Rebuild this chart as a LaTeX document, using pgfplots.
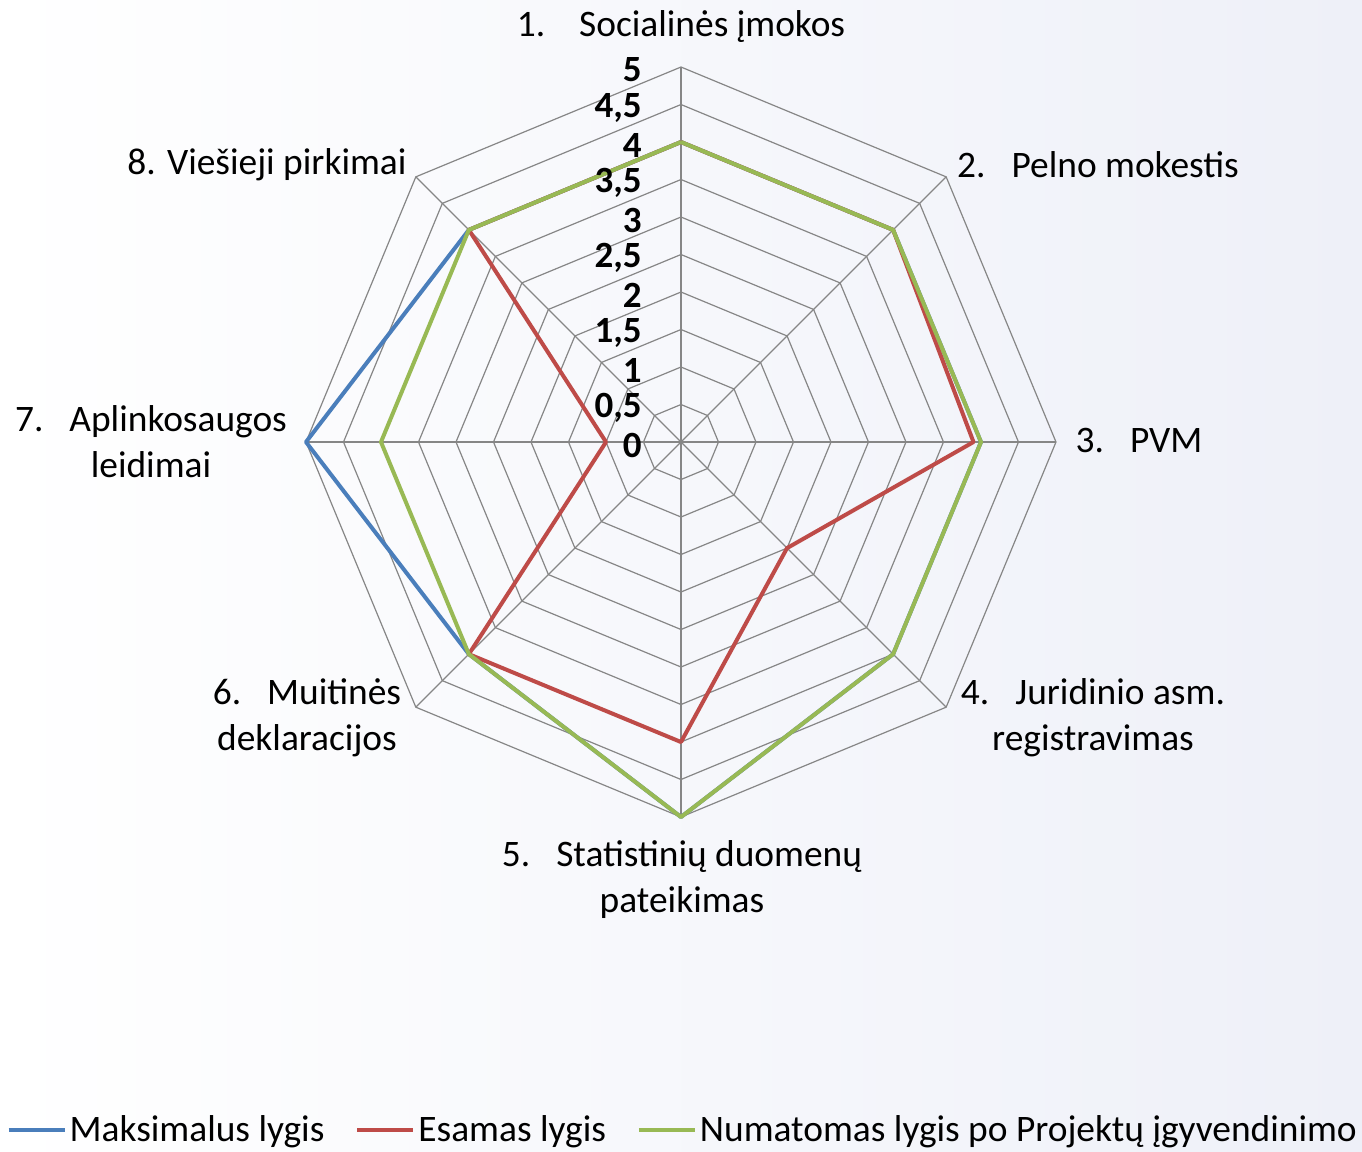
\documentclass[border=0pt]{standalone}
\usepackage{pgfplots}
\pgfplotsset{compat=1.18}
\usepgfplotslibrary{polar}
\usepackage{fontspec}
\setmainfont{Carlito}
\definecolor{sblue}{RGB}{74,126,187}
\definecolor{sred}{RGB}{190,75,72}
\definecolor{sgreen}{RGB}{152,185,84}
\definecolor{gridc}{RGB}{134,134,134}
\definecolor{bgc}{RGB}{238,240,248}
\begin{document}
\begin{tikzpicture}
\shade[left color=white, right color=bgc] (0,0) rectangle (681pt,-576pt);
\begin{polaraxis}[
  at={(340.5pt,-221pt)}, anchor=origin,
  width=375pt, height=375pt, scale only axis,
  ymin=0, ymax=5, xmin=0, xmax=360,
  hide axis, clip=false,
  legend columns=3,
  legend style={at={(0.503,-0.417)}, anchor=center, draw=none, fill=none,
    font=\fontsize{18.7}{21}\selectfont, nodes={inner xsep=1.5pt},
    /tikz/every even column/.append style={column sep=14pt}},
  legend image code/.code={\draw[#1, line width=2pt] (0pt,0pt) -- (28pt,0pt);},
]
\pgfplotsinvokeforeach{0.5,1,1.5,2,2.5,3,3.5,4,4.5,5}{
  \addplot[gridc, line width=0.6pt, forget plot] coordinates {(90,#1)(45,#1)(0,#1)(-45,#1)(-90,#1)(-135,#1)(180,#1)(135,#1)(90,#1)};
}
\pgfplotsinvokeforeach{90,45,0,-45,-90,-135,180,135}{
  \addplot[gridc, line width=0.6pt, forget plot] coordinates {(#1,0)(#1,5)};
}
\addplot[sblue, line width=2pt, line join=round] coordinates {(90,4)(45,4)(0,4)(-45,4)(-90,5)(-135,4)(180,5)(135,4)(90,4)};
\addlegendentry{Maksimalus lygis}
\addplot[sred, line width=2pt, line join=round] coordinates {(90,4)(45,4)(0,3.9)(-45,2)(-90,4)(-135,4)(180,1)(135,4)(90,4)};
\addlegendentry{Esamas lygis}
\addplot[sgreen, line width=2pt, line join=round] coordinates {(90,4)(45,4)(0,4)(-45,4)(-90,5)(-135,4)(180,4)(135,4)(90,4)};
\addlegendentry{Numatomas lygis po Projektų įgyvendinimo}
\tikzset{tl/.style={font=\bfseries\fontsize{18.5}{19}\selectfont, anchor=east, inner sep=0pt, xshift=-19.5pt, yshift=-1.5pt}}
\node[tl] at (axis cs:90,0) {0};
\node[tl] at (axis cs:90,0.5) {0,5};
\node[tl] at (axis cs:90,1) {1};
\node[tl] at (axis cs:90,1.5) {1,5};
\node[tl] at (axis cs:90,2) {2};
\node[tl] at (axis cs:90,2.5) {2,5};
\node[tl] at (axis cs:90,3) {3};
\node[tl] at (axis cs:90,3.5) {3,5};
\node[tl] at (axis cs:90,4) {4};
\node[tl] at (axis cs:90,4.5) {4,5};
\node[tl] at (axis cs:90,5) {5};
\end{polaraxis}
\begin{scope}[x=0.5pt, y=-0.5pt, every node/.style={font=\fontsize{18.7}{23}\selectfont, align=center, inner sep=0pt}]
\node at (681,27) {1.\hspace{17pt}Socialinės įmokos};
\node at (1098,165) {2.\hspace{13pt}Pelno mokestis};
\node at (1139,441) {3.\hspace{13pt}PVM};
\node at (1093,718) {4.\hspace{13pt}Juridinio asm.\\registravimas};
\node at (682,880) {5.\hspace{13pt}Statistinių duomenų\\pateikimas};
\node at (307,718) {6.\hspace{13pt}Muitinės\\deklaracijos};
\node at (151,442) {7.\hspace{13pt}Aplinkosaugos\\leidimai};
\node at (267,165) {8. Viešieji pirkimai};
\end{scope}
\pgfresetboundingbox
\path (0,0) rectangle (681pt,-576pt);
\end{tikzpicture}
\end{document}
